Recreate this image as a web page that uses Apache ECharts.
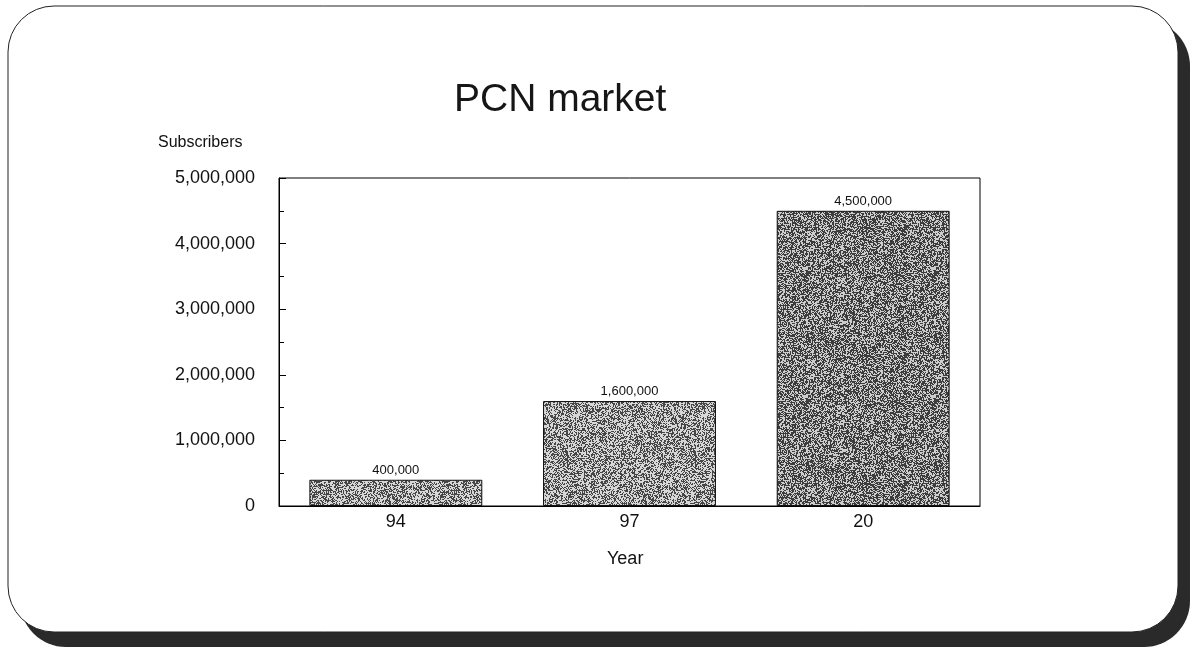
<!DOCTYPE html>
<html>
<head>
<meta charset="utf-8">
<title>PCN market</title>
<script src="https://cdn.jsdelivr.net/npm/echarts@6/dist/echarts.min.js"></script>
<style>
  html, body { margin: 0; padding: 0; background: #ffffff; }
  #chart { width: 1192px; height: 650px; }
</style>
</head>
<body>
<div id="chart"></div>
<script>
// Chart data
const years = ['94', '97', '20'];
const subscribers = [400000, 1600000, 4500000];
const yTicks = [0, 1000000, 2000000, 3000000, 4000000, 5000000];

const FONT = '"Liberation Sans", Arial, sans-serif';

function withCommas(v) {
  return String(v).replace(/\B(?=(\d{3})+(?!\d))/g, ',');
}

// Speckled grey fill for the bars (deterministic LCG so it never changes)
function speckle(density, seed, dark, light) {
  const size = 128;
  const c = document.createElement('canvas');
  c.width = size; c.height = size;
  const ctx = c.getContext('2d');
  const img = ctx.createImageData(size, size);
  let s = seed;
  for (let i = 0; i < size * size; i++) {
    s = (s * 1103515245 + 12345) & 0x7fffffff;
    const v = s / 0x7fffffff;
    const g = v < density ? dark : light;
    img.data[i * 4] = g;
    img.data[i * 4 + 1] = g;
    img.data[i * 4 + 2] = g;
    img.data[i * 4 + 3] = 255;
  }
  ctx.putImageData(img, 0, 0);
  return { image: c, repeat: 'repeat' };
}

const lightFill = speckle(0.45, 7, 70, 215);
const darkFill = speckle(0.55, 19, 60, 205);
const fills = [lightFill, lightFill, darkFill];

const chart = echarts.init(document.getElementById('chart'), null, { renderer: 'canvas' });

chart.setOption({
  backgroundColor: '#ffffff',
  animation: false,
  grid: {
    left: 279, right: 212, top: 178, bottom: 144,
    show: true, borderColor: '#000', borderWidth: 1,
    containLabel: false
  },
  graphic: [
    // card shadow
    {
      type: 'rect', z: -20, silent: true,
      shape: { x: 20, y: 20, width: 1170, height: 627, r: 46 },
      style: { fill: '#2a2a2a' }
    },
    // card face
    {
      type: 'rect', z: -19, silent: true,
      shape: { x: 8, y: 6, width: 1170, height: 626, r: 46 },
      style: { fill: '#ffffff', stroke: '#222', lineWidth: 1 }
    },
    {
      type: 'text', z: 10, left: 454, top: 81,
      style: { text: 'PCN market', font: '39px ' + FONT, fill: '#161616' }
    },
    {
      type: 'text', z: 10, left: 158, top: 135,
      style: { text: 'Subscribers', font: '16px ' + FONT, fill: '#111' }
    },
    {
      type: 'text', z: 10, left: 607, top: 550,
      style: { text: 'Year', font: '18px ' + FONT, fill: '#111' }
    }
  ],
  xAxis: {
    type: 'category',
    data: years,
    axisLine: { show: true, lineStyle: { color: '#000', width: 1 } },
    axisTick: { show: true, inside: true, alignWithLabel: true, length: 5, lineStyle: { color: '#000' } },
    axisLabel: { fontSize: 18, fontFamily: FONT, color: '#111', margin: 7 },
    splitLine: { show: false }
  },
  yAxis: {
    type: 'value',
    min: yTicks[0],
    max: yTicks[yTicks.length - 1],
    interval: yTicks[1] - yTicks[0],
    axisLine: { show: true, lineStyle: { color: '#000', width: 1 } },
    axisTick: { show: true, inside: true, length: 7, lineStyle: { color: '#000' } },
    minorTick: { show: true, splitNumber: 2, length: 5, lineStyle: { color: '#000' } },
    axisLabel: {
      fontSize: 18, fontFamily: FONT, color: '#111', margin: 24,
      formatter: v => withCommas(v)
    },
    splitLine: { show: false }
  },
  series: [{
    type: 'bar',
    barWidth: '74%',
    data: subscribers.map((v, i) => ({
      value: v,
      itemStyle: { color: fills[i], borderColor: '#111', borderWidth: 1 }
    })),
    label: {
      show: true, position: 'top', distance: 3,
      fontSize: 13, fontFamily: FONT, color: '#111',
      formatter: p => withCommas(p.value)
    }
  }]
});
</script>
</body>
</html>
